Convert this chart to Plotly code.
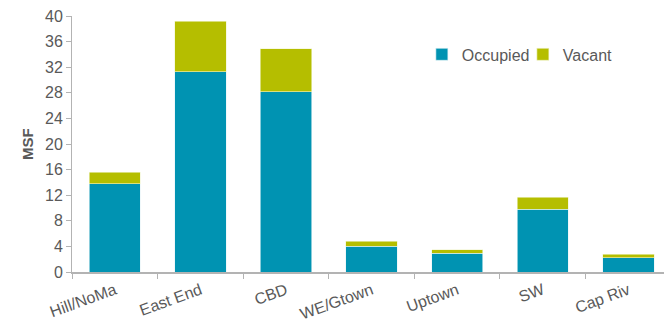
import plotly.graph_objects as go

categories = ["Hill/NoMa", "East End", "CBD", "WE/Gtown", "Uptown", "SW", "Cap Riv"]
occupied = [13.8, 31.3, 28.2, 4.0, 2.9, 9.8, 2.25]
vacant = [1.8, 7.9, 6.7, 0.8, 0.55, 1.9, 0.55]
y_ticks = [0, 4, 8, 12, 16, 20, 24, 28, 32, 36, 40]

font_color = "#595959"
axis_color = "#B3B3B3"

fig = go.Figure()
fig.add_trace(go.Bar(x=categories, y=occupied, name="Occupied",
                     marker=dict(color="#0093B2", line=dict(color="#E6F4F7", width=0.6))))
fig.add_trace(go.Bar(x=categories, y=vacant, name="Vacant",
                     marker=dict(color="#B5BE00", line=dict(color="#F2F5D0", width=0.6))))

fig.update_layout(
    barmode="stack",
    bargap=0.4,
    width=664, height=322,
    margin=dict(l=72, r=0, t=16, b=50),
    paper_bgcolor="white", plot_bgcolor="white",
    font=dict(family="Liberation Sans, Arial, sans-serif", size=16, color=font_color),
    showlegend=True,
    legend=dict(orientation="h", x=0.591, y=0.85, xanchor="left", yanchor="middle",
                font=dict(size=16, color=font_color), itemwidth=30, entrywidth=56,
                bgcolor="rgba(0,0,0,0)", traceorder="normal"),
    annotations=[dict(text="<b>MSF</b>", x=-0.076, y=0.5, xref="paper", yref="paper",
                      textangle=-90, showarrow=False, xanchor="center", yanchor="middle",
                      font=dict(size=15, color=font_color))],
)
fig.update_xaxes(
    type="category", range=[-0.5, 6.416], automargin=False,
    showline=True, linecolor=axis_color, linewidth=2,
    ticks="outside", tickson="boundaries", ticklen=5, tickcolor=axis_color, tickwidth=1,
    tickangle=-20, ticklabelstandoff=1, showgrid=False, tickfont=dict(size=16, color=font_color),
)
fig.update_yaxes(
    range=[0, 40], tickvals=y_ticks, automargin=False,
    showline=True, linecolor=axis_color, linewidth=1,
    ticks="outside", ticklen=5, tickcolor=axis_color,
    showgrid=False, zeroline=False, tickfont=dict(size=16, color=font_color),
)

fig.write_html("out.html")
